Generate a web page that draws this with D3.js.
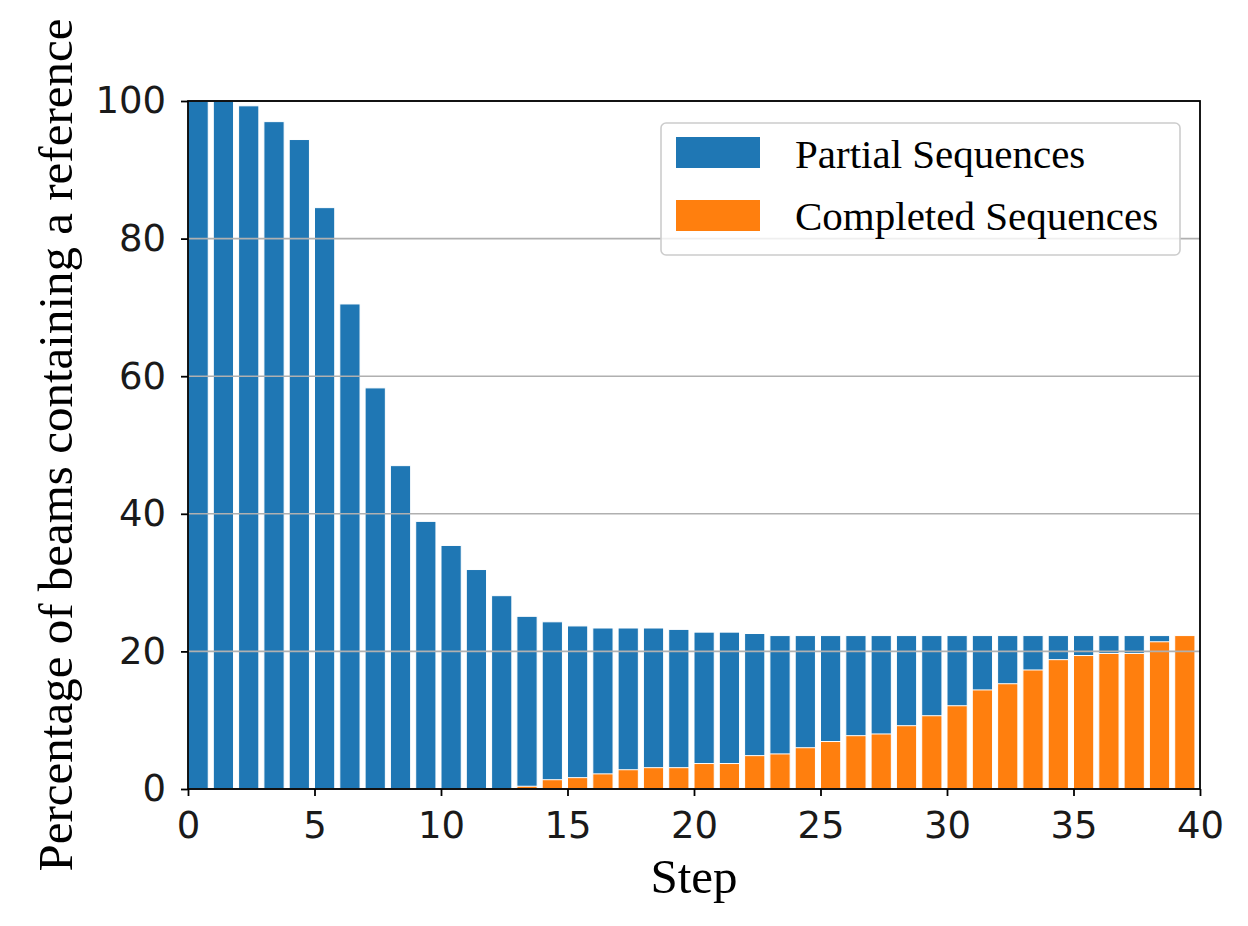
<!DOCTYPE html>
<html>
<head>
<meta charset="utf-8">
<script src="https://cdn.jsdelivr.net/npm/d3@7"></script>
<style>
  body { margin: 0; background: #fff; }
  svg { display: block; }
</style>
</head>
<body>
<div id="chart"></div>
<script>
// data
let steps = d3.range(0, 40);
let partialValues = [100, 100, 99.3, 97.0, 94.4, 84.5, 70.5, 58.3, 47.0, 38.9,
  35.4, 31.9, 28.1, 25.1, 24.3, 23.7, 23.4, 23.4, 23.4, 23.2,
  22.8, 22.8, 22.6, 22.3, 22.3, 22.3, 22.3, 22.3, 22.3, 22.3,
  22.3, 22.3, 22.3, 22.3, 22.3, 22.3, 22.3, 22.3, 22.3, 22.3];
let completedValues = [0, 0, 0, 0, 0, 0, 0, 0, 0, 0,
  0, 0, 0, 0.4, 1.35, 1.65, 2.2, 2.8, 3.1, 3.1,
  3.7, 3.7, 4.85, 5.1, 6.0, 6.9, 7.75, 8.0, 9.2, 10.65,
  12.1, 14.4, 15.3, 17.3, 18.8, 19.4, 19.7, 19.7, 21.4, 22.3];
let xTicks = [0, 5, 10, 15, 20, 25, 30, 35, 40];
let yTicks = [0, 20, 40, 60, 80, 100];
let seriesNames = ["Partial Sequences", "Completed Sequences"];
let seriesColors = ["#1f77b4", "#ff7f0e"];

let svgWidth = 1248;
let svgHeight = 926;

let margin = { top: 101, right: 48, bottom: 137, left: 188 };
let width = svgWidth - margin.left - margin.right;
let height = svgHeight - margin.top - margin.bottom;

let svg = d3.select("#chart")
  .append("svg")
  .attr("width", svgWidth)
  .attr("height", svgHeight);

let chartGroup = svg.append("g")
  .attr("transform", `translate(${margin.left}, ${margin.top})`);

let xScale = d3.scaleLinear().domain([0, 40]).range([0, width]);
let yScale = d3.scaleLinear().domain([0, 100]).range([height, 0]);

let barWidth = 0.8;

// partial sequences (blue)
chartGroup.append("g").selectAll("rect")
  .data(steps)
  .enter()
  .append("rect")
  .attr("x", d => xScale(d))
  .attr("width", d => xScale(d + barWidth) - xScale(d))
  .attr("y", d => yScale(partialValues[d]))
  .attr("height", d => yScale(0) - yScale(partialValues[d]))
  .attr("fill", seriesColors[0])
  .attr("stroke", "#ffffff")
  .attr("stroke-width", 1);

// completed sequences (orange), drawn on top
chartGroup.append("g").selectAll("rect")
  .data(steps.filter(d => completedValues[d] > 0))
  .enter()
  .append("rect")
  .attr("x", d => xScale(d))
  .attr("width", d => xScale(d + barWidth) - xScale(d))
  .attr("y", d => yScale(completedValues[d]))
  .attr("height", d => yScale(0) - yScale(completedValues[d]))
  .attr("fill", seriesColors[1])
  .attr("stroke", "#ffffff")
  .attr("stroke-width", 1);

// horizontal grid over the bars
chartGroup.append("g").selectAll("line")
  .data(yTicks)
  .enter()
  .append("line")
  .attr("x1", 0)
  .attr("x2", width)
  .attr("y1", d => yScale(d))
  .attr("y2", d => yScale(d))
  .attr("stroke", "#b0b0b0")
  .attr("stroke-width", 1.6);

// axes
let bottomAxis = d3.axisBottom(xScale).tickValues(xTicks).tickSize(7).tickPadding(16).tickFormat(d3.format("d"));
let leftAxis = d3.axisLeft(yScale).tickValues(yTicks).tickSize(7).tickPadding(15).tickFormat(d3.format("d"));

let xAxis = chartGroup.append("g")
  .attr("transform", `translate(0, ${height})`)
  .call(bottomAxis);

let yAxis = chartGroup.append("g")
  .call(leftAxis);

[xAxis, yAxis].forEach(ax => {
  ax.select(".domain").remove();
  ax.selectAll(".tick line").attr("stroke", "#000").attr("stroke-width", 1.8);
  ax.selectAll(".tick text")
    .attr("fill", "#1a1a1a")
    .style("font-family", "'DejaVu Sans', sans-serif")
    .style("font-size", "37px");
});

// frame
chartGroup.append("rect")
  .attr("x", 0)
  .attr("y", 0)
  .attr("width", width)
  .attr("height", height)
  .attr("fill", "none")
  .attr("stroke", "#000")
  .attr("stroke-width", 1.8);

// axis labels
chartGroup.append("text")
  .attr("x", width / 2)
  .attr("y", height + 104)
  .attr("text-anchor", "middle")
  .style("font-family", "'Liberation Serif', 'Times New Roman', serif")
  .style("font-size", "49px")
  .attr("fill", "#000")
  .text("Step");

chartGroup.append("text")
  .attr("transform", "rotate(-90)")
  .attr("x", -height / 2)
  .attr("y", 72 - margin.left)
  .attr("text-anchor", "middle")
  .style("font-family", "'Liberation Serif', 'Times New Roman', serif")
  .style("font-size", "49px")
  .attr("fill", "#000")
  .text("Percentage of beams containing a reference");

// legend
let legend = svg.append("g")
  .attr("transform", "translate(661, 123)");

legend.append("rect")
  .attr("width", 519)
  .attr("height", 132)
  .attr("rx", 5)
  .attr("fill", "#ffffff")
  .attr("fill-opacity", 0.8)
  .attr("stroke", "#cccccc")
  .attr("stroke-width", 1.6);

seriesNames.forEach((name, i) => {
  legend.append("rect")
    .attr("x", 15)
    .attr("y", 14 + i * 63)
    .attr("width", 84)
    .attr("height", 31)
    .attr("fill", seriesColors[i]);
  legend.append("text")
    .attr("x", 134)
    .attr("y", 45 + i * 62)
    .style("font-family", "'Liberation Serif', 'Times New Roman', serif")
    .style("font-size", "41px")
    .attr("fill", "#000")
    .text(name);
});
</script>
</body>
</html>
